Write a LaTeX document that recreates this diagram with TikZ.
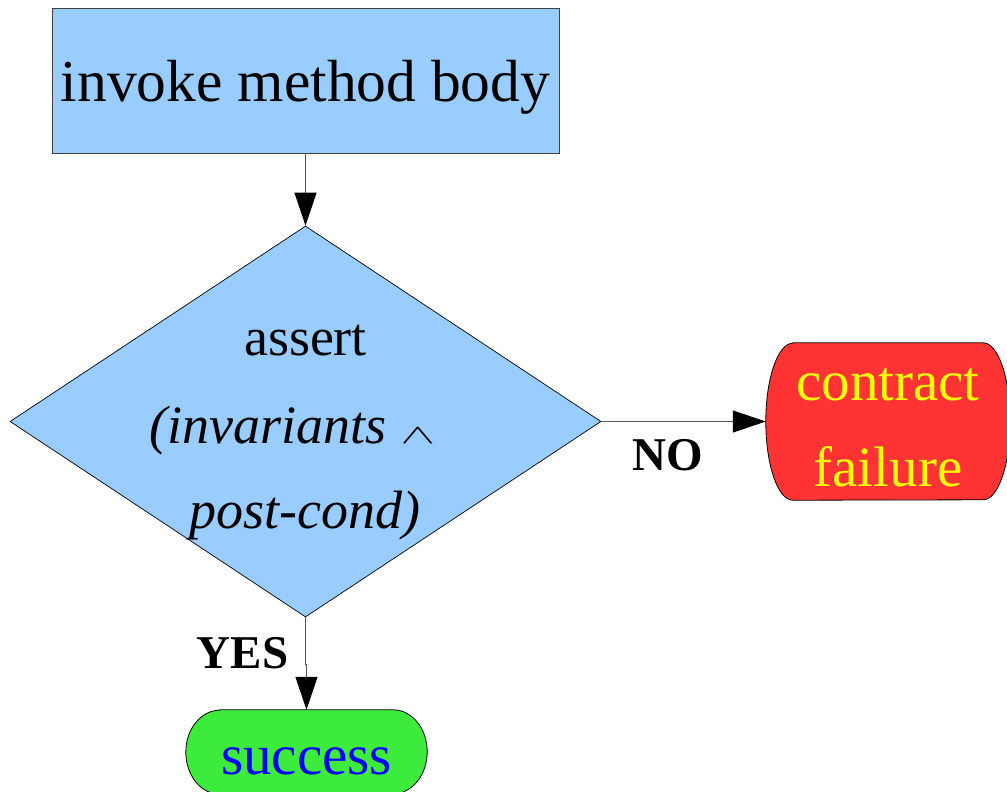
\documentclass[tikz,border=0pt]{standalone}
\usepackage{graphicx}
\usepackage{fontspec}
\setmainfont{Liberation Serif}
\usetikzlibrary{arrows.meta,shapes.geometric}
\definecolor{boxblue}{HTML}{99CCFF}
\definecolor{failred}{HTML}{FF3333}
\definecolor{failtext}{HTML}{FFFF00}
\definecolor{okgreen}{HTML}{3DEB3D}
\definecolor{oktext}{HTML}{0000FF}
\definecolor{linegray}{HTML}{555555}
\tikzset{
  procbox/.style={rectangle, draw=black!75, fill=boxblue, line width=0.9pt, inner sep=0pt, minimum width=507pt, minimum height=145pt},
  decision/.style={diamond, draw=black, fill=boxblue, line width=0.7pt, inner sep=0pt, minimum width=591pt, minimum height=391pt},
  termbox/.style={rectangle, inner sep=0pt},
  conn/.style={draw=linegray, line width=1pt, -{Triangle[length=33pt,width=22pt,color=black,fill=black]}},
  bigtxt/.style={anchor=base, inner sep=0pt, font=\fontsize{59.5}{70}\selectfont},
  midtxt/.style={anchor=base, inner sep=0pt, font=\fontsize{54}{64}\selectfont},
  termtxt/.style={anchor=base, inner sep=0pt, font=\fontsize{57}{68}\selectfont},
  lbltxt/.style={anchor=base, inner sep=0pt, font=\bfseries\fontsize{47}{56}\selectfont},
}
\begin{document}
\begin{tikzpicture}[x=1pt,y=-1pt]
\useasboundingbox (0,0) rectangle (1007,792);
\clip (0,0) rectangle (1007,792);
\fill[white] (0,0) rectangle (1007,792);

% shapes
\node[procbox] (body) at (305.5,80.5) {};
\node[decision] (assert) at (305.5,421.5) {};
\node[termbox, minimum width=244pt, minimum height=157pt] (fail) at (888,421.5) {};
\node[termbox, minimum width=241pt, minimum height=84pt] (succ) at (306.5,752) {};

\filldraw[fill=failred, draw=black, line width=0.8pt]
  ([xshift=27pt]fail.north west) -- ([xshift=-27pt]fail.north east)
  arc[start angle=90, end angle=-90, x radius=27pt, y radius=78.5pt]
  -- ([xshift=27pt]fail.south west)
  arc[start angle=270, end angle=90, x radius=27pt, y radius=78.5pt] -- cycle;
\filldraw[fill=okgreen, draw=black, line width=0.8pt]
  ([xshift=34pt]succ.north west) -- ([xshift=-34pt]succ.north east)
  arc[start angle=90, end angle=-90, x radius=34pt, y radius=42pt]
  -- ([xshift=34pt]succ.south west)
  arc[start angle=270, end angle=90, x radius=34pt, y radius=42pt] -- cycle;

% texts
\node[bigtxt] (bodytxt) at (305.5,102) {invoke method body};
\node[midtxt] (l1) at (305.5,355) {assert};
\node[midtxt] (l2) at (292.5,443) {\textit{(invariants} \scalebox{2.1}[1.1]{$\wedge$}};
\node[midtxt] (l3) at (304.5,528) {\textit{post-cond)}};
\node[termtxt, text=failtext] (f1) at (888,400) {contract};
\node[termtxt, text=failtext] (f2) at (888,486) {failure};
\node[termtxt, text=oktext] (s1) at (306.5,774) {success};
\node[lbltxt] (no) at (667.5,470) {NO};
\node[lbltxt] (yes) at (242.5,668) {YES};

% connectors
\draw[conn] (body.south) -- (assert.north);
\draw[conn] (assert.east) -- (fail.west);
\coordinate (yesbend) at ([yshift=-47pt]assert.south);
\draw[conn] (assert.south) -- (yesbend) -| (succ.north);
\end{tikzpicture}
\end{document}
